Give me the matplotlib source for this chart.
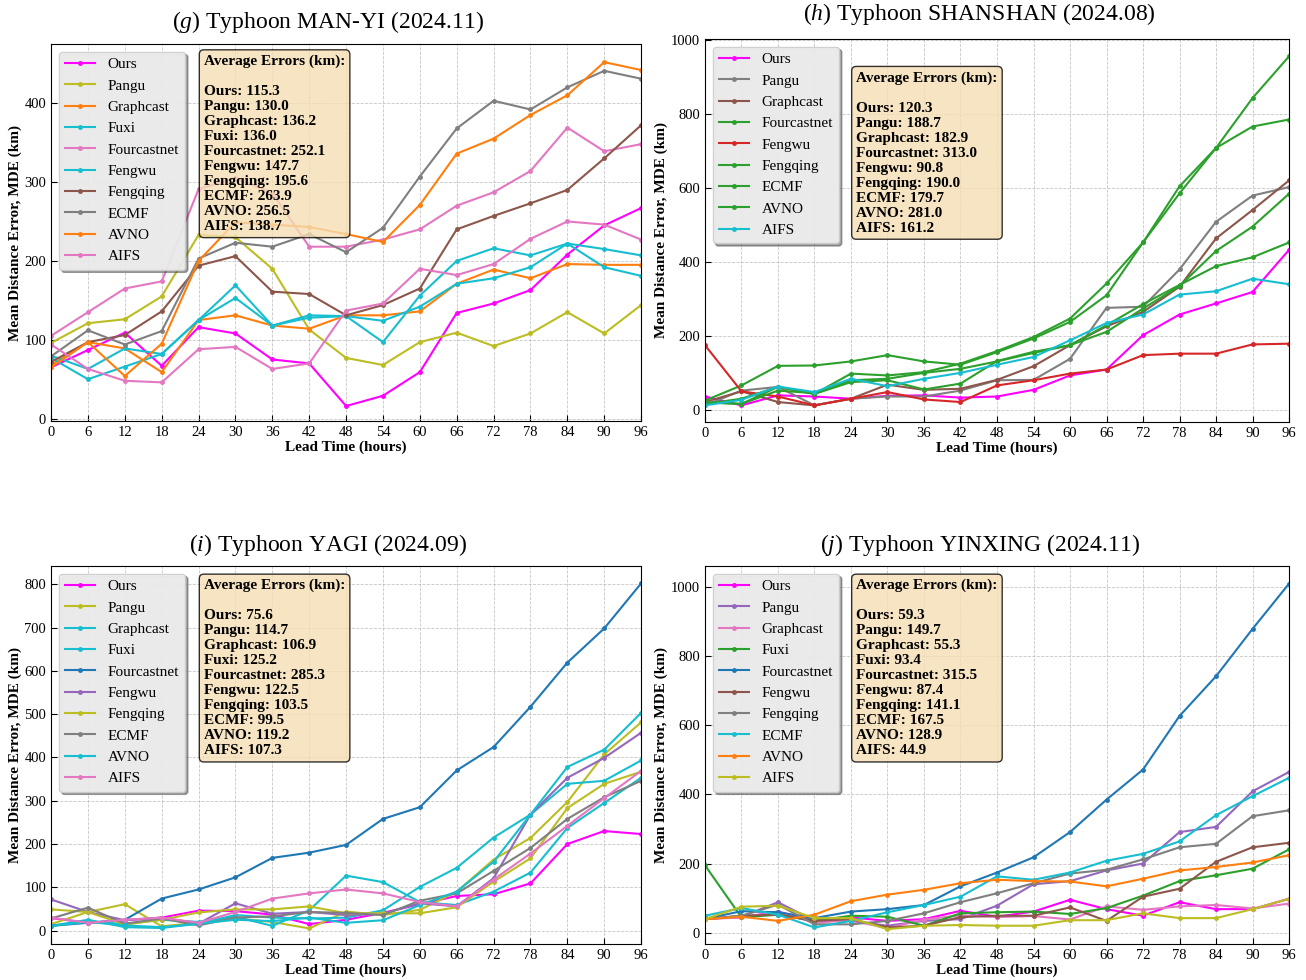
import matplotlib
matplotlib.use('Agg')
import matplotlib.pyplot as plt

plt.rcParams['font.family'] = ['Liberation Serif', 'DejaVu Serif']
plt.rcParams['mathtext.fontset'] = 'custom'
plt.rcParams['mathtext.rm'] = 'Liberation Serif'
plt.rcParams['mathtext.it'] = 'Liberation Serif:italic'

# Forecast lead times (hours)
lead_hours = [0, 6, 12, 18, 24, 30, 36, 42, 48, 54, 60, 66, 72, 78, 84, 90, 96]

# (g) Typhoon MAN-YI (2024.11) -- mean distance error, km
manyi_errors = {
    'Ours':        [65, 87, 109, 67, 116, 108, 75, 70, 16, 29, 59, 134, 146, 163, 208, 245, 267],
    'Pangu':       [96, 121, 126, 155, 233, 230, 190, 113, 77, 68, 97, 109, 92, 108, 135, 108, 144],
    'Graphcast':   [68, 97, 89, 59, 125, 131, 118, 114, 131, 131, 136, 171, 189, 178, 196, 195, 195],
    'Fuxi':        [77, 50, 66, 82, 125, 169, 118, 131, 130, 124, 142, 171, 178, 192, 222, 192, 181],
    'Fourcastnet': [105, 135, 165, 174, 291, 305, 286, 218, 218, 227, 240, 270, 287, 314, 369, 339, 348],
    'Fengwu':      [80, 63, 89, 82, 125, 153, 118, 128, 130, 97, 156, 200, 216, 207, 222, 215, 207],
    'Fengqing':    [72, 97, 106, 136, 194, 206, 161, 158, 131, 144, 165, 240, 257, 273, 290, 330, 372],
    'ECMF':        [79, 112, 94, 111, 203, 223, 218, 234, 211, 242, 307, 368, 403, 392, 420, 441, 431],
    'AVNO':        [65, 97, 54, 95, 200, 249, 246, 243, 234, 224, 271, 336, 355, 385, 410, 452, 442],
    'AIFS':        [94, 63, 48, 46, 88, 91, 63, 70, 137, 146, 190, 182, 196, 228, 250, 246, 227],
}
manyi_avg = [115.3, 130.0, 136.2, 136.0, 252.1, 147.7, 195.6, 263.9, 256.5, 138.7]

# (h) Typhoon SHANSHAN (2024.08)
shanshan_errors = {
    'Ours':        [36, 12, 39, 36, 30, 38, 39, 33, 36, 54, 93, 109, 202, 258, 288, 319, 433],
    'Pangu':       [12, 52, 62, 12, 30, 36, 36, 52, 80, 81, 138, 276, 279, 380, 509, 580, 603],
    'Graphcast':   [21, 50, 21, 12, 30, 68, 54, 57, 81, 118, 175, 226, 265, 333, 464, 541, 621],
    'Fourcastnet': [25, 66, 119, 120, 131, 148, 131, 122, 156, 193, 238, 310, 453, 586, 709, 844, 957],
    'Fengwu':      [175, 50, 36, 12, 30, 48, 28, 21, 66, 80, 98, 109, 148, 152, 152, 177, 179],
    'Fengqing':    [16, 30, 62, 43, 75, 80, 55, 71, 132, 157, 175, 211, 274, 335, 430, 496, 585],
    'ECMF':        [20, 16, 52, 45, 80, 84, 100, 111, 131, 154, 175, 229, 286, 338, 389, 413, 453],
    'AVNO':        [20, 16, 62, 43, 98, 93, 102, 125, 159, 197, 247, 342, 453, 605, 709, 767, 786],
    'AIFS':        [12, 27, 63, 48, 84, 64, 84, 100, 122, 143, 188, 235, 258, 312, 321, 355, 340],
}
shanshan_avg = [120.3, 188.7, 182.9, 313.0, 90.8, 190.0, 179.7, 281.0, 161.2]

# (i) Typhoon YAGI (2024.09)
yagi_errors = {
    'Ours':        [29, 18, 24, 30, 46, 45, 37, 15, 25, 41, 61, 80, 84, 109, 200, 230, 223],
    'Pangu':       [15, 43, 61, 10, 18, 28, 20, 5, 44, 36, 48, 90, 164, 214, 297, 407, 481],
    'Graphcast':   [11, 22, 15, 25, 20, 32, 11, 47, 127, 112, 66, 59, 90, 134, 237, 295, 353],
    'Fuxi':        [11, 25, 8, 6, 16, 36, 30, 28, 30, 47, 101, 145, 215, 268, 339, 346, 393],
    'Fourcastnet': [11, 18, 25, 74, 95, 123, 168, 180, 198, 258, 285, 370, 424, 517, 619, 698, 802],
    'Fengwu':      [72, 43, 24, 30, 16, 63, 39, 43, 36, 39, 63, 56, 121, 268, 353, 399, 457],
    'Fengqing':    [49, 43, 14, 25, 42, 49, 49, 56, 40, 40, 40, 54, 113, 167, 283, 339, 367],
    'ECMF':        [28, 53, 16, 28, 12, 30, 33, 43, 41, 36, 69, 86, 138, 191, 258, 308, 346],
    'AVNO':        [11, 20, 12, 8, 16, 25, 22, 30, 18, 24, 59, 90, 159, 268, 378, 418, 503],
    'AIFS':        [30, 18, 25, 30, 18, 43, 74, 86, 95, 86, 66, 56, 118, 178, 242, 306, 369],
}
yagi_avg = [75.6, 114.7, 106.9, 125.2, 285.3, 122.5, 103.5, 99.5, 119.2, 107.3]

# (j) Typhoon YINXING (2024.11)
yinxing_errors = {
    'Ours':        [42, 44, 61, 34, 44, 34, 39, 63, 46, 61, 95, 68, 49, 88, 68, 68, 98],
    'Pangu':       [39, 46, 88, 34, 34, 20, 34, 39, 78, 140, 149, 180, 200, 291, 306, 409, 465],
    'Graphcast':   [39, 44, 59, 29, 35, 13, 38, 50, 45, 48, 38, 76, 66, 76, 80, 70, 84],
    'Fuxi':        [195, 44, 52, 34, 49, 46, 20, 56, 59, 61, 54, 71, 107, 149, 166, 185, 241],
    'Fourcastnet': [40, 62, 59, 42, 61, 68, 80, 134, 174, 218, 291, 385, 472, 627, 742, 879, 1010],
    'Fengwu':      [39, 49, 52, 34, 39, 15, 20, 45, 49, 49, 73, 34, 104, 127, 205, 247, 260],
    'Fengqing':    [39, 49, 81, 24, 24, 34, 56, 88, 114, 143, 171, 182, 212, 247, 257, 337, 354],
    'ECMF':        [49, 71, 52, 15, 34, 59, 80, 104, 163, 153, 174, 208, 228, 264, 340, 395, 448],
    'AVNO':        [39, 46, 34, 52, 91, 110, 124, 143, 153, 149, 148, 134, 156, 180, 190, 203, 224],
    'AIFS':        [39, 75, 78, 42, 42, 10, 20, 22, 20, 20, 36, 36, 56, 42, 42, 68, 98],
}
yinxing_avg = [59.3, 149.7, 55.3, 93.4, 315.5, 87.4, 141.1, 167.5, 128.9, 44.9]

# line colours per panel
manyi_colors = {'Ours': '#ff00ff', 'Pangu': '#bcbd22', 'Graphcast': '#ff7f0e', 'Fuxi': '#17becf',
                'Fourcastnet': '#e377c2', 'Fengwu': '#17becf', 'Fengqing': '#8c564b', 'ECMF': '#7f7f7f',
                'AVNO': '#ff7f0e', 'AIFS': '#e377c2'}
shanshan_colors = {'Ours': '#ff00ff', 'Pangu': '#7f7f7f', 'Graphcast': '#8c564b', 'Fourcastnet': '#2ca02c',
                   'Fengwu': '#d62728', 'Fengqing': '#2ca02c', 'ECMF': '#2ca02c', 'AVNO': '#2ca02c',
                   'AIFS': '#17becf'}
yagi_colors = {'Ours': '#ff00ff', 'Pangu': '#bcbd22', 'Graphcast': '#17becf', 'Fuxi': '#17becf',
               'Fourcastnet': '#1f77b4', 'Fengwu': '#9467bd', 'Fengqing': '#bcbd22', 'ECMF': '#7f7f7f',
               'AVNO': '#17becf', 'AIFS': '#e377c2'}
yinxing_colors = {'Ours': '#ff00ff', 'Pangu': '#9467bd', 'Graphcast': '#e377c2', 'Fuxi': '#2ca02c',
                  'Fourcastnet': '#1f77b4', 'Fengwu': '#8c564b', 'Fengqing': '#7f7f7f', 'ECMF': '#17becf',
                  'AVNO': '#ff7f0e', 'AIFS': '#bcbd22'}


def draw_panel(ax, title, errors, colors, averages, ylim, text_y, title_pad):
    for name, vals in errors.items():
        ax.plot(lead_hours, vals, color=colors[name], marker='o', markersize=2.5,
                linewidth=1.5, label=name)
    ax.set_xlim(0, 96)
    ax.set_xticks(lead_hours)
    ax.set_ylim(*ylim)
    ax.grid(True, linestyle='--', color='#b8b8b8', linewidth=0.6, alpha=0.8)
    ax.tick_params(direction='in', labelsize=10.5, length=4)
    ax.set_xlabel('Lead Time (hours)', fontweight='bold', fontsize=11, labelpad=1)
    ax.set_ylabel('Mean Distance Error, MDE (km)', fontweight='bold', fontsize=11, labelpad=2)
    ax.set_title(title, fontsize=17, pad=title_pad, x=0.47)
    ax.legend(loc='upper left', fontsize=11, shadow=True, fancybox=True,
              facecolor='#f2f2f2', edgecolor='#cccccc', framealpha=0.9)
    lines = ['Average Errors (km):', '']
    lines += [f'{n}: {v:.1f}' for n, v in zip(errors.keys(), averages)]
    ax.text(0.259, text_y, '\n'.join(lines), transform=ax.transAxes, va='top', ha='left',
            fontsize=11, fontweight='bold', zorder=6,
            bbox=dict(boxstyle='round', facecolor='wheat', alpha=0.8))


fig = plt.figure(figsize=(13.06, 9.8), dpi=100)
ax_g = fig.add_axes([0.0391, 0.5704, 0.4518, 0.3847])
ax_h = fig.add_axes([0.5398, 0.5694, 0.4472, 0.3908])
ax_i = fig.add_axes([0.0391, 0.0367, 0.4518, 0.3857])
ax_j = fig.add_axes([0.5398, 0.0367, 0.4472, 0.3857])

draw_panel(ax_g, r'$\it{(g)}$ Typhoon MAN-YI (2024.11)', manyi_errors, manyi_colors,
           manyi_avg, (-3, 475), 0.972, 11.5)
draw_panel(ax_h, r'$\it{(h)}$ Typhoon SHANSHAN (2024.08)', shanshan_errors, shanshan_colors,
           shanshan_avg, (-33, 1004), 0.916, 14)
draw_panel(ax_i, r'$\it{(i)}$ Typhoon YAGI (2024.09)', yagi_errors, yagi_colors,
           yagi_avg, (-31, 842), 0.966, 11)
draw_panel(ax_j, r'$\it{(j)}$ Typhoon YINXING (2024.11)', yinxing_errors, yinxing_colors,
           yinxing_avg, (-33, 1061), 0.966, 11)

fig.savefig('out.png', dpi=100)
